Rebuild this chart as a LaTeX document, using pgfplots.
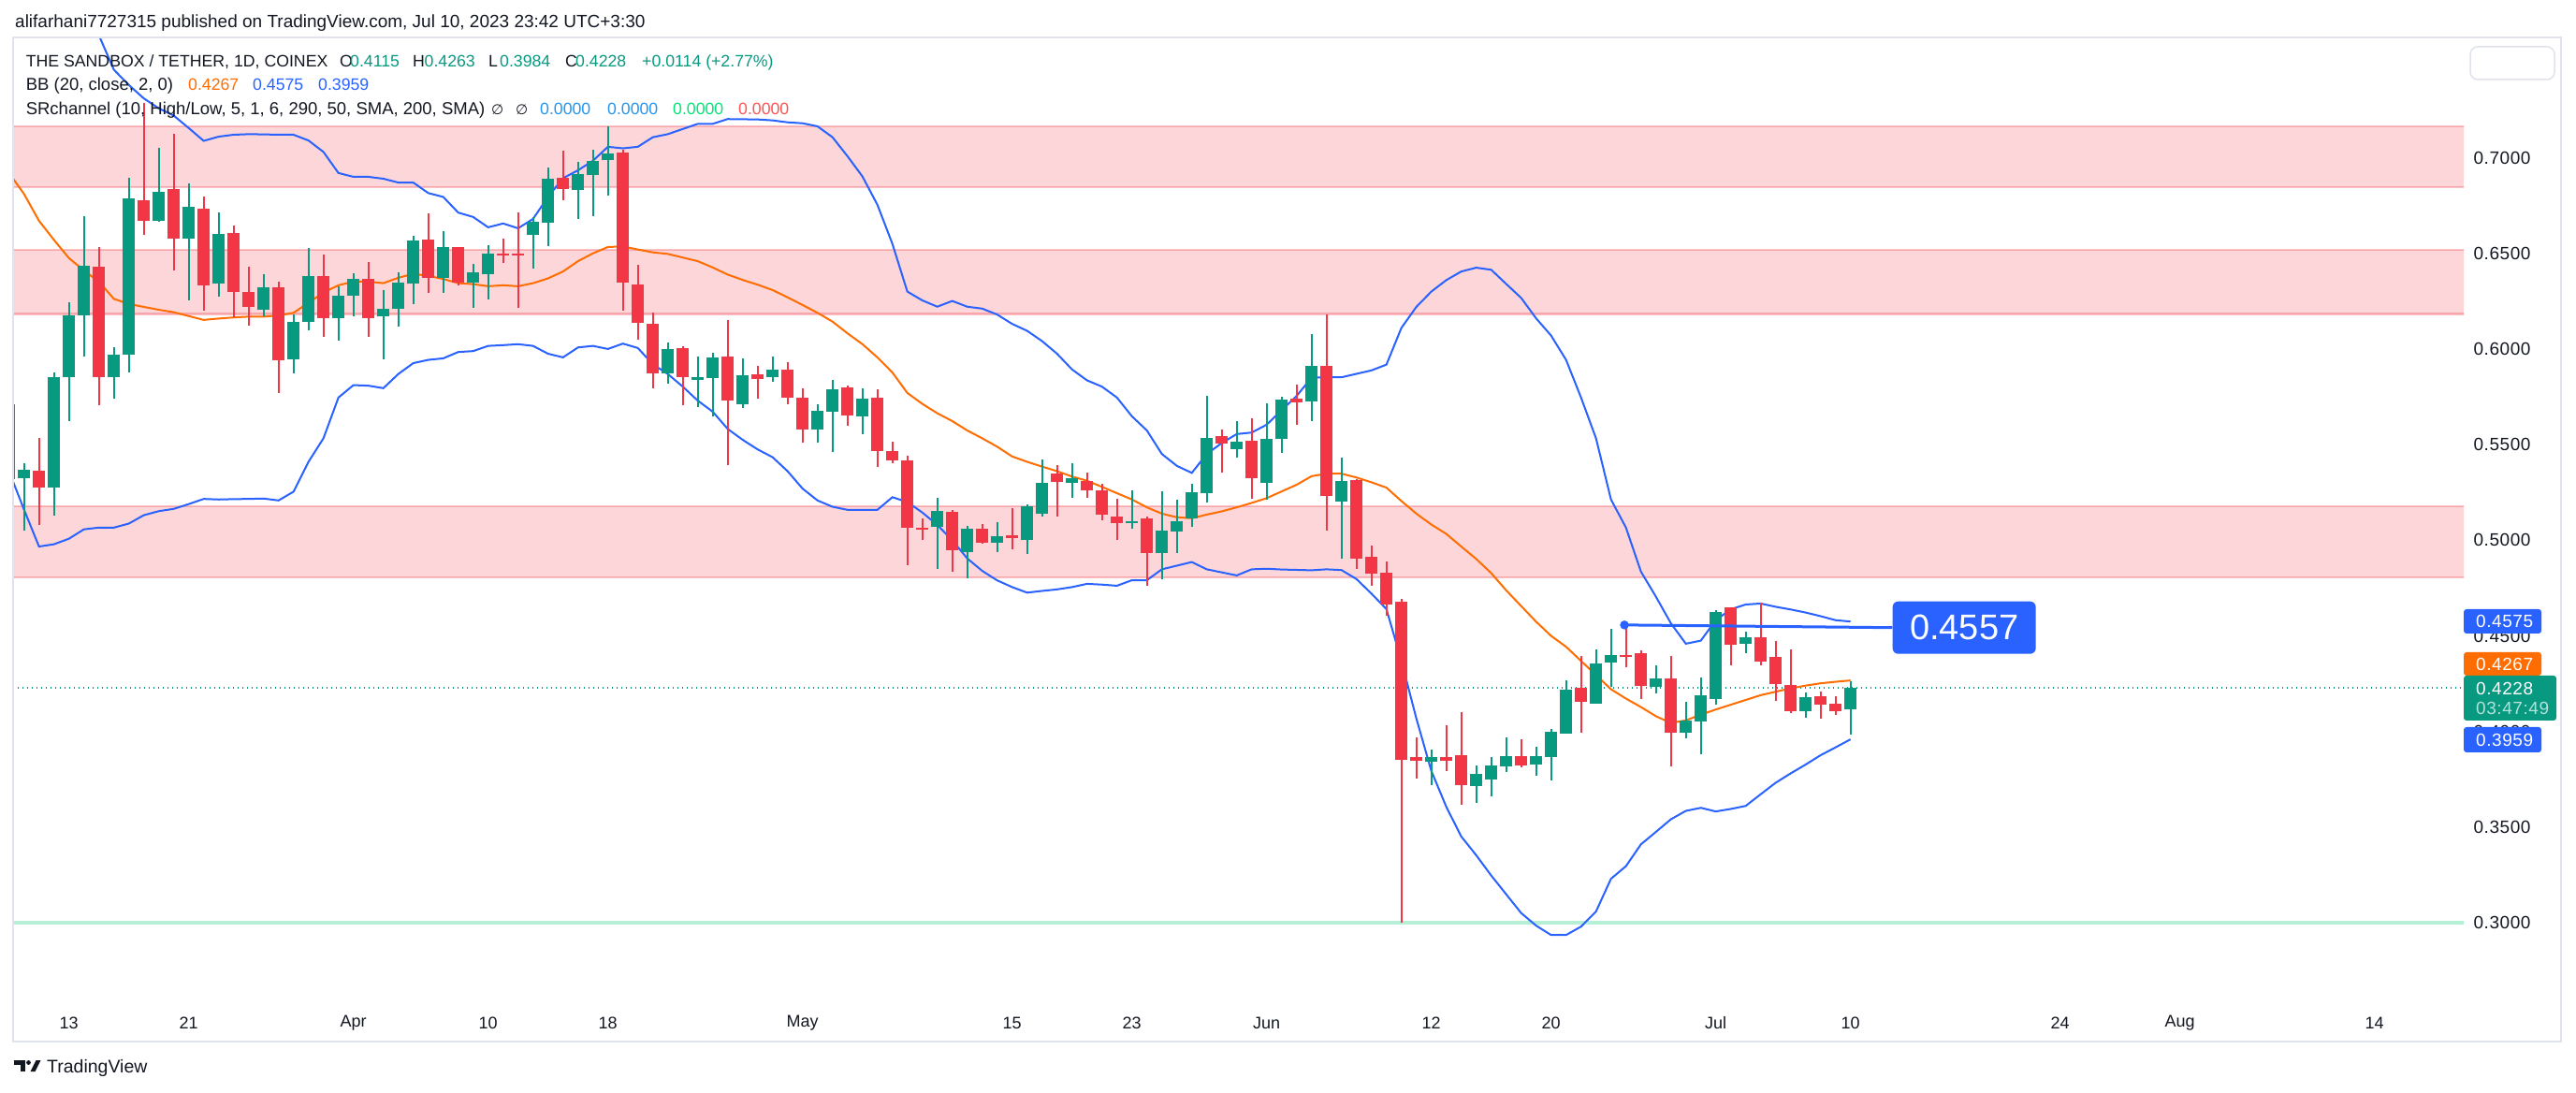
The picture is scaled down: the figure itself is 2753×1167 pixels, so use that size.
\documentclass[border=0pt]{standalone}
\usepackage{fontspec}
\setmainfont{Liberation Sans}
\newfontfamily\symfont{DejaVu Sans}
\newfontfamily\pricefont[LetterSpace=3]{Liberation Sans}
\usepackage{pgfplots}
\pgfplotsset{compat=1.18}
\usepackage{pgfplotstable}
\usepgfplotslibrary{fillbetween}
\newcommand{\pxs}[1]{\fontsize{#1}{#1}\selectfont}
\definecolor{tvgreen}{HTML}{089981}
\definecolor{tvred}{HTML}{F23645}
\definecolor{tvblue}{HTML}{2962FF}
\definecolor{tvorange}{HTML}{FF6D00}
\definecolor{tvtext}{HTML}{131722}
\definecolor{gridc}{HTML}{EEF1F6}
\definecolor{paneb}{HTML}{E0E3EB}
\definecolor{bbfill}{HTML}{2196F3}
\definecolor{srblue}{HTML}{2196F3}
\definecolor{srgreen}{HTML}{00E676}
\definecolor{srred}{HTML}{FF5252}
\definecolor{supgreen}{HTML}{B4EFD6}

\pgfplotstableread{
d o h l c
-3 0.5323 0.5402 0.5050 0.5369
-1 0.5274 0.5877 0.5131 0.5851
0 0.5851 0.6246 0.5623 0.6175
1 0.6175 0.6692 0.5959 0.6436
3 0.5851 0.6008 0.5738 0.5969
4 0.5969 0.6893 0.5877 0.6785
6 0.6672 0.7050 0.6664 0.6820
8 0.6579 0.6864 0.6254 0.6741
10 0.6343 0.6716 0.6274 0.6603
13 0.6205 0.6390 0.6172 0.6323
15 0.5946 0.6180 0.5872 0.6143
16 0.6143 0.6530 0.6098 0.6382
18 0.6162 0.6328 0.6044 0.6279
19 0.6279 0.6398 0.6169 0.6367
21 0.6169 0.6310 0.5946 0.6208
22 0.6208 0.6402 0.6115 0.6348
23 0.6344 0.6590 0.6234 0.6566
25 0.6369 0.6615 0.6295 0.6533
27 0.6349 0.6446 0.6216 0.6402
28 0.6389 0.6544 0.6259 0.6500
31 0.6595 0.6689 0.6418 0.6664
32 0.6661 0.6951 0.6536 0.6890
34 0.6833 0.6979 0.6680 0.6913
35 0.6910 0.7044 0.6693 0.6984
36 0.6989 0.7164 0.6803 0.7021
40 0.5872 0.6033 0.5820 0.6000
42 0.5840 0.5959 0.5697 0.5852
43 0.5848 0.5979 0.5648 0.5954
45 0.5713 0.5951 0.5689 0.5864
47 0.5852 0.5959 0.5828 0.5893
50 0.5577 0.5713 0.5508 0.5677
51 0.5670 0.5836 0.5459 0.5787
53 0.5648 0.5792 0.5552 0.5738
58 0.5072 0.5223 0.4848 0.5153
60 0.4938 0.5076 0.4802 0.5060
62 0.4987 0.5096 0.4938 0.5023
64 0.5003 0.5187 0.4930 0.5178
65 0.5138 0.5421 0.5125 0.5300
67 0.5300 0.5405 0.5223 0.5323
71 0.5088 0.5262 0.5060 0.5096
73 0.4932 0.5258 0.4796 0.5052
74 0.5045 0.5212 0.4935 0.5099
75 0.5112 0.5295 0.5072 0.5250
76 0.5245 0.5754 0.5195 0.5536
78 0.5475 0.5623 0.5431 0.5516
80 0.5300 0.5717 0.5213 0.5530
81 0.5528 0.5748 0.5458 0.5735
83 0.5725 0.6079 0.5623 0.5912
85 0.5200 0.5431 0.4902 0.5308
91 0.3840 0.3905 0.3720 0.3864
94 0.3716 0.3822 0.3627 0.3778
95 0.3748 0.3864 0.3660 0.3822
96 0.3819 0.3969 0.3786 0.3871
98 0.3827 0.3922 0.3770 0.3869
99 0.3866 0.4015 0.3745 0.3997
100 0.3988 0.4270 0.3988 0.4220
102 0.4147 0.4430 0.4147 0.4355
103 0.4359 0.4539 0.4234 0.4401
106 0.4232 0.4347 0.4201 0.4278
108 0.3995 0.4155 0.3966 0.4056
109 0.4054 0.4282 0.3879 0.4188
110 0.4172 0.4636 0.4138 0.4625
112 0.4458 0.4524 0.4410 0.4495
116 0.4108 0.4203 0.4072 0.4179
119 0.4115 0.4263 0.3984 0.4228
}\greenT

\pgfplotstableread{
d o h l c
-4 0.5713 0.5750 0.5250 0.5320
-2 0.5364 0.5536 0.5082 0.5274
2 0.6431 0.6533 0.5705 0.5851
5 0.6779 0.7287 0.6598 0.6669
7 0.6836 0.7123 0.6410 0.6579
9 0.6731 0.6798 0.6202 0.6333
11 0.6608 0.6644 0.6164 0.6300
12 0.6298 0.6431 0.6123 0.6221
14 0.6323 0.6352 0.5770 0.5939
17 0.6382 0.6492 0.6061 0.6162
20 0.6367 0.6456 0.6061 0.6162
24 0.6574 0.6707 0.6295 0.6372
26 0.6533 0.6533 0.6331 0.6348
29 0.6495 0.6579 0.6448 0.6489
30 0.6495 0.6716 0.6216 0.6490
33 0.6893 0.7036 0.6779 0.6836
37 0.7025 0.7041 0.6202 0.6349
38 0.6336 0.6438 0.6049 0.6139
39 0.6134 0.6189 0.5795 0.5872
41 0.6005 0.6016 0.5705 0.5852
44 0.5962 0.6152 0.5393 0.5730
46 0.5869 0.5910 0.5738 0.5841
48 0.5893 0.5930 0.5713 0.5746
49 0.5743 0.5795 0.5508 0.5577
52 0.5800 0.5808 0.5598 0.5651
54 0.5743 0.5787 0.5385 0.5467
55 0.5467 0.5516 0.5405 0.5418
56 0.5415 0.5443 0.4870 0.5066
57 0.5066 0.5115 0.5000 0.5054
59 0.5150 0.5160 0.4837 0.4949
61 0.5060 0.5085 0.4982 0.4987
63 0.5028 0.5169 0.4954 0.5011
66 0.5349 0.5393 0.5125 0.5307
68 0.5311 0.5352 0.5223 0.5262
69 0.5262 0.5295 0.5105 0.5135
70 0.5125 0.5215 0.5003 0.5088
72 0.5115 0.5125 0.4762 0.4932
77 0.5546 0.5579 0.5352 0.5503
79 0.5520 0.5637 0.5217 0.5325
82 0.5742 0.5815 0.5602 0.5723
84 0.5910 0.6180 0.5052 0.5230
86 0.5315 0.5318 0.4849 0.4905
87 0.4912 0.4970 0.4764 0.4825
88 0.4828 0.4887 0.4605 0.4666
89 0.4681 0.4693 0.3002 0.3851
90 0.3864 0.3971 0.3753 0.3846
92 0.3864 0.4031 0.3794 0.3846
93 0.3876 0.4101 0.3618 0.3719
97 0.3873 0.3961 0.3814 0.3822
101 0.4229 0.4396 0.3995 0.4157
104 0.4401 0.4567 0.4334 0.4388
105 0.4410 0.4423 0.4170 0.4236
107 0.4278 0.4396 0.3819 0.3995
111 0.4650 0.4650 0.4345 0.4454
113 0.4495 0.4673 0.4345 0.4364
114 0.4392 0.4472 0.4162 0.4246
115 0.4244 0.4430 0.4097 0.4106
117 0.4185 0.4208 0.4069 0.4142
118 0.4146 0.4183 0.4089 0.4108
}\redT

\pgfplotstableread{
d u m lo
-4 0.848 0.692 0.536
-3 0.846 0.681 0.516
-2 0.837 0.667 0.4967
-1 0.816 0.657 0.4979
0 0.794 0.6475 0.5008
1 0.776 0.641 0.5057
2 0.764 0.6352 0.5066
3 0.746 0.6262 0.5066
4 0.738 0.6235 0.5087
5 0.731 0.622 0.5131
6 0.7258 0.6205 0.5152
7 0.722 0.6192 0.5164
8 0.7155 0.6172 0.5189
9 0.7088 0.6152 0.5216
10 0.711 0.6159 0.5213
11 0.712 0.6165 0.5215
12 0.7123 0.6169 0.5216
13 0.7122 0.6169 0.5218
14 0.712 0.6175 0.5208
15 0.712 0.6189 0.5254
16 0.709 0.6241 0.541
17 0.703 0.6295 0.5533
18 0.692 0.6333 0.5746
19 0.690 0.6352 0.5811
20 0.690 0.6352 0.5808
21 0.689 0.6344 0.5795
22 0.687 0.6372 0.5869
23 0.687 0.6393 0.5926
24 0.6815 0.6382 0.5943
25 0.6795 0.6366 0.5951
26 0.6713 0.6344 0.5984
27 0.669 0.6339 0.5989
28 0.6636 0.6328 0.6016
29 0.6656 0.6333 0.602
30 0.6631 0.6328 0.6025
31 0.668 0.6344 0.6016
32 0.6795 0.6369 0.5975
33 0.6893 0.6405 0.5956
34 0.6934 0.6459 0.6008
35 0.6984 0.65 0.6016
36 0.7057 0.6533 0.6
37 0.7049 0.6536 0.6028
38 0.7057 0.652 0.6005
39 0.7107 0.6505 0.592
40 0.7123 0.6497 0.5869
41 0.715 0.6478 0.5803
42 0.7177 0.6459 0.573
43 0.7177 0.6426 0.5672
44 0.7202 0.6389 0.5582
45 0.7201 0.6361 0.5525
46 0.72 0.6336 0.5475
47 0.7195 0.6308 0.5434
48 0.7185 0.627 0.5361
49 0.718 0.623 0.527
50 0.7164 0.6189 0.5208
51 0.7107 0.6143 0.5175
52 0.7008 0.6082 0.5159
53 0.6902 0.6025 0.5159
54 0.6754 0.5956 0.5159
55 0.655 0.5877 0.5225
56 0.630 0.577 0.52
57 0.6254 0.5713 0.5145
58 0.6221 0.5664 0.508
59 0.6251 0.5623 0.500
60 0.6221 0.5574 0.4905
61 0.6211 0.5533 0.484
62 0.618 0.5489 0.479
63 0.6131 0.5438 0.4755
64 0.6095 0.541 0.4726
65 0.6041 0.5385 0.4735
66 0.5975 0.5361 0.4743
67 0.5893 0.5333 0.4755
68 0.5836 0.5311 0.4772
69 0.5803 0.5279 0.4768
70 0.5746 0.5246 0.4762
71 0.5648 0.5213 0.4791
72 0.5574 0.5172 0.4791
73 0.5451 0.5139 0.4848
74 0.5389 0.512 0.4867
75 0.5352 0.5115 0.4886
76 0.5451 0.5134 0.4848
77 0.5508 0.5151 0.4832
78 0.5555 0.5172 0.4816
79 0.5563 0.5195 0.4848
80 0.5604 0.522 0.4851
81 0.568 0.5255 0.4847
82 0.5754 0.529 0.4845
83 0.585 0.5335 0.4843
84 0.5852 0.5348 0.4848
85 0.5852 0.5348 0.4844
86 0.587 0.5328 0.4797
87 0.5888 0.5303 0.4721
88 0.5918 0.5275 0.464
89 0.611 0.5205 0.437
90 0.622 0.5139 0.4068
91 0.630 0.5082 0.3794
92 0.636 0.5033 0.3606
93 0.6405 0.4967 0.3451
94 0.6425 0.4902 0.3353
95 0.6414 0.4828 0.3247
96 0.634 0.4738 0.3149
97 0.6267 0.4656 0.3051
98 0.616 0.4574 0.2985
99 0.607 0.45 0.2936
100 0.5943 0.4443 0.2936
101 0.5746 0.4369 0.298
102 0.5533 0.4295 0.3059
103 0.5213 0.4221 0.323
104 0.5066 0.4172 0.3296
105 0.4836 0.4128 0.341
106 0.4705 0.408 0.3475
107 0.4566 0.4045 0.3541
108 0.4459 0.4058 0.3585
109 0.4475 0.4088 0.3601
110 0.4582 0.4115 0.3582
111 0.4639 0.4140 0.3595
112 0.4664 0.4165 0.3611
113 0.4669 0.419 0.3672
114 0.4652 0.4208 0.3732
115 0.4638 0.4225 0.3781
116 0.4622 0.424 0.3827
117 0.4603 0.4252 0.3876
118 0.4582 0.426 0.3917
119 0.4575 0.4267 0.3959
}\bbT

\pgfplotsset{candle/.style={only marks, mark=*, mark size=0pt,
  mark options={draw opacity=0, fill opacity=0},
  error bars/.cd, y dir=plus, y explicit, error mark=none}}

\begin{document}
\begin{tikzpicture}[x=1pt,y=1pt]
\fill[white] (-1500,-1500) rectangle (4500,3000);
\begin{axis}[
  at={(0,0)}, anchor=south west,
  width=2619pt, height=1031pt, scale only axis,
  xmin=-3.731, xmax=159.96, ymin=0.25797, ymax=0.76238,
  axis line style={draw=none},
  major tick length=0pt,
  xtick={0,8,19,28,36,49,63,71,80,91,99,110,119,133,141,154},
  xticklabels={13,21,Apr,10,18,May,15,23,Jun,12,20,Jul,10,24,Aug,14},
  ytick={0.30,0.35,0.40,0.45,0.50,0.55,0.60,0.65,0.70,0.75},
  scaled y ticks=false,
  yticklabel pos=right,
  yticklabel style={anchor=west, xshift=7pt, font=\pricefont\pxs{19}, text=tvtext,
    /pgf/number format/fixed, /pgf/number format/fixed zerofill,
    /pgf/number format/precision=4, /pgf/number format/assume math mode=true},
  xticklabel style={anchor=center, yshift=-21pt, font=\pxs{18}, text=tvtext},
  grid=major, grid style={gridc, line width=1.5pt},
]
\coordinate (O) at (rel axis cs:0,0);
% Bollinger fill
\addplot[draw=none, name path=U] table[x=d,y=u]{\bbT};
\addplot[draw=none, name path=L] table[x=d,y=lo]{\bbT};
\addplot[bbfill, fill opacity=0.06, draw=none] fill between[of=U and L];
% SR bands
\addplot[draw=none, fill=tvred, fill opacity=0.2] coordinates {(-10,0.6846) (170,0.6846) (170,0.7164) (-10,0.7164)} -- cycle;
\addplot[draw=none, fill=tvred, fill opacity=0.2] coordinates {(-10,0.6182) (170,0.6182) (170,0.6517) (-10,0.6517)} -- cycle;
\addplot[draw=none, fill=tvred, fill opacity=0.2] coordinates {(-10,0.4805) (170,0.4805) (170,0.5178) (-10,0.5178)} -- cycle;
\addplot[tvred, draw opacity=0.3, line width=2.5pt] coordinates {(-10,0.7164) (170,0.7164)};
\addplot[tvred, draw opacity=0.3, line width=2.5pt] coordinates {(-10,0.6846) (170,0.6846)};
\addplot[tvred, draw opacity=0.3, line width=2.5pt] coordinates {(-10,0.6517) (170,0.6517)};
\addplot[tvred, draw opacity=0.3, line width=2.5pt] coordinates {(-10,0.6182) (170,0.6182)};
\addplot[tvred, draw opacity=0.3, line width=2.5pt] coordinates {(-10,0.5178) (170,0.5178)};
\addplot[tvred, draw opacity=0.3, line width=2.5pt] coordinates {(-10,0.4805) (170,0.4805)};
% support line
\addplot[supgreen, line width=3.5pt] coordinates {(-10,0.30) (170,0.30)};
% last price dotted
\addplot[tvgreen, line width=1.5pt, dash pattern=on 1.5pt off 3.5pt] coordinates {(-10,0.4228) (170,0.4228)};
% BB lines
\addplot[tvblue, line width=2pt] table[x=d,y=u]{\bbT};
\addplot[tvblue, line width=2pt] table[x=d,y=lo]{\bbT};
\addplot[tvorange, line width=2pt] table[x=d,y=m]{\bbT};
% candles: wicks
\addplot[candle, error bar style={draw=tvgreen, line width=2pt}]
  table[x=d, y=l, y error expr=\thisrow{h}-\thisrow{l}]{\greenT};
\addplot[candle, error bar style={draw=tvred, line width=2pt}]
  table[x=d, y=l, y error expr=\thisrow{h}-\thisrow{l}]{\redT};
% candles: bodies
\addplot[candle, error bar style={draw=tvgreen, line width=12.5pt}]
  table[x=d, y=o, y error expr={max(\thisrow{c}-\thisrow{o},0.0009)}]{\greenT};
\addplot[candle, error bar style={draw=tvred, line width=12.5pt}]
  table[x=d, y=c, y error expr={max(\thisrow{o}-\thisrow{c},0.0009)}]{\redT};
% horizontal ray
\addplot[tvblue, line width=3pt] coordinates {(103.9,0.4557) (121.8,0.4543)};
\addplot[tvblue, only marks, mark=*, mark size=4.5pt] coordinates {(103.9,0.4557)};
\node[fill=tvblue, rounded corners=6pt, text=white, font=\pxs{38}, minimum width=153pt,
  minimum height=56pt, inner sep=0pt, anchor=west] at (axis cs:121.8,0.4543) {0.4557};
\end{axis}
\begin{scope}[shift={(O)}, shift={(-14,1072)}, yscale=-1]
\draw[paneb, line width=2pt] (14,40) rectangle (2737,1113);
% top right box
\draw[paneb, line width=1.5pt, fill=white, rounded corners=8pt] (2640,50) rectangle (2730,85);
% price tags
\fill[tvblue, rounded corners=3pt] (2633,651) rectangle (2716,677);
\node[anchor=west, text=white, font=\pricefont\pxs{19}, inner sep=0pt] at (2646,664) {0.4575};
\fill[tvorange, rounded corners=3pt] (2633,697) rectangle (2716,722);
\node[anchor=west, text=white, font=\pricefont\pxs{19}, inner sep=0pt] at (2646,709.5) {0.4267};
\fill[tvgreen, rounded corners=3pt] (2633,722) rectangle (2732,770);
\node[anchor=west, text=white, font=\pricefont\pxs{19}, inner sep=0pt] at (2646,735.5) {0.4228};
\node[anchor=west, text=white, text opacity=0.7, font=\pricefont\pxs{19}, inner sep=0pt] at (2646,757) {03:47:49};
\fill[tvblue, rounded corners=3pt] (2633,777) rectangle (2716,804);
\node[anchor=west, text=white, font=\pricefont\pxs{19}, inner sep=0pt] at (2646,790.5) {0.3959};
% header
\node[anchor=base west, inner sep=0pt, font=\pxs{19}, text=tvtext] at (16,29.5) {alifarhani7727315 published on TradingView.com, Jul 10, 2023 23:42 UTC+3:30};
\node[anchor=base west, inner sep=0pt, font=\pxs{17.7}, text=tvtext] at (27.6,71.7) {THE SANDBOX / TETHER, 1D, COINEX};
\node[anchor=base west, inner sep=0pt, font=\pxs{17.7}, text=tvtext] at (363,71.7) {O};
\node[anchor=base west, inner sep=0pt, font=\pxs{17.7}, text=tvgreen] at (374,71.7) {0.4115};
\node[anchor=base west, inner sep=0pt, font=\pxs{17.7}, text=tvtext] at (441,71.7) {H};
\node[anchor=base west, inner sep=0pt, font=\pxs{17.7}, text=tvgreen] at (453.5,71.7) {0.4263};
\node[anchor=base west, inner sep=0pt, font=\pxs{17.7}, text=tvtext] at (522,71.7) {L};
\node[anchor=base west, inner sep=0pt, font=\pxs{17.7}, text=tvgreen] at (534,71.7) {0.3984};
\node[anchor=base west, inner sep=0pt, font=\pxs{17.7}, text=tvtext] at (604,71.7) {C};
\node[anchor=base west, inner sep=0pt, font=\pxs{17.7}, text=tvgreen] at (615,71.7) {0.4228};
\node[anchor=base west, inner sep=0pt, font=\pxs{17.7}, text=tvgreen] at (686,71.7) {+0.0114 (+2.77\%)};
\node[anchor=base west, inner sep=0pt, font=\pxs{18.5}, text=tvtext] at (27.6,96.7) {BB (20, close, 2, 0)};
\node[anchor=base west, inner sep=0pt, font=\pxs{17.7}, text=tvorange] at (201,96.7) {0.4267};
\node[anchor=base west, inner sep=0pt, font=\pxs{17.7}, text=tvblue] at (270,96.7) {0.4575};
\node[anchor=base west, inner sep=0pt, font=\pxs{17.7}, text=tvblue] at (340,96.7) {0.3959};
\node[anchor=base west, inner sep=0pt, font=\pxs{18.5}, text=tvtext] at (27.6,122.7) {SRchannel (10, High/Low, 5, 1, 6, 290, 50, SMA, 200, SMA)};
\node[anchor=base west, inner sep=0pt, font=\symfont\pxs{15}, text=tvtext] at (525,122.7) {∅};
\node[anchor=base west, inner sep=0pt, font=\symfont\pxs{15}, text=tvtext] at (551,122.7) {∅};
\node[anchor=base west, inner sep=0pt, font=\pxs{17.7}, text=srblue] at (577,122.7) {0.0000};
\node[anchor=base west, inner sep=0pt, font=\pxs{17.7}, text=srblue] at (649,122.7) {0.0000};
\node[anchor=base west, inner sep=0pt, font=\pxs{17.7}, text=srgreen] at (719,122.7) {0.0000};
\node[anchor=base west, inner sep=0pt, font=\pxs{17.7}, text=srred] at (789,122.7) {0.0000};
% footer logo
\fill[tvtext] (15,1133) rectangle (26.5,1137.5);
\fill[tvtext] (21.5,1133) rectangle (26.5,1145);
\fill[tvtext] (30.5,1135.5) circle (2.4);
\fill[tvtext] (32.5,1145) -- (37.5,1145) -- (43.5,1133) -- (38.5,1133) -- cycle;
\node[anchor=base west, inner sep=0pt, font=\pxs{19.5}, text=tvtext] at (50,1146) {TradingView};
\pgfresetboundingbox
\useasboundingbox (0,0) rectangle (2753,1167);
\end{scope}
\end{tikzpicture}
\end{document}
